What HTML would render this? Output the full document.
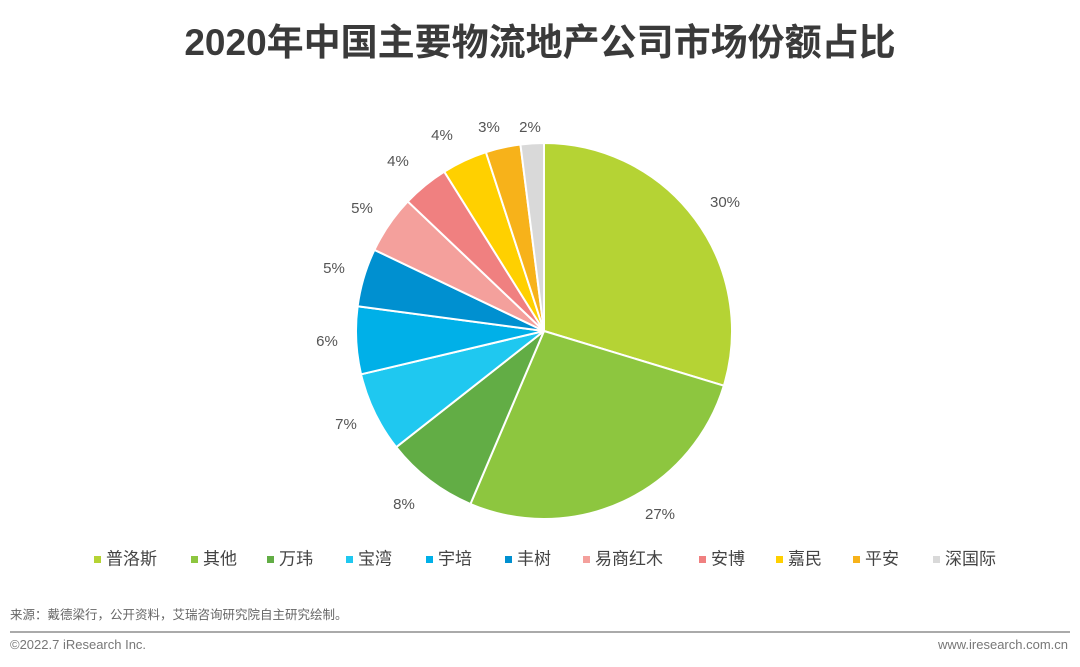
<!DOCTYPE html>
<html><head><meta charset="utf-8"><style>
body{margin:0;width:1080px;height:667px;background:#fff;overflow:hidden;position:relative;font-family:"Liberation Sans","Noto Sans CJK SC",sans-serif;}
.t{position:absolute;white-space:nowrap;}
</style></head><body>
<div class="t" style="left:0;width:1080px;text-align:center;top:12px;font-size:37px;font-weight:bold;color:#3a3a3a;">2020年中国主要物流地产公司市场份额占比</div>
<svg id="s" width="1080" height="667" style="position:absolute;left:0;top:0"></svg>
<div class="t" style="left:10px;top:604px;font-size:12.5px;color:#666;">来源：戴德梁行，公开资料，艾瑞咨询研究院自主研究绘制。</div>
<div style="position:absolute;left:10px;right:10px;top:631px;height:2px;background:#aaa"></div>
<div class="t" style="left:10px;top:637px;font-size:13px;color:#777;">©2022.7 iResearch Inc.</div>
<div class="t" style="right:12px;top:637px;font-size:13px;color:#777;">www.iresearch.com.cn</div>
<script>
var cum=[0,29.7,56.4,64.4,71.3,77.1,82.1,87.1,91.1,95,98,100];
var cols=["#b5d334","#8dc63f","#62ad45","#1fc8f0","#00b0e8","#0090d0","#f4a09c","#f08080","#ffd000","#f7b21a","#d9d9d9"];
var names=["普洛斯","其他","万玮","宝湾","宇培","丰树","易商红木","安博","嘉民","平安","深国际"];
var lab=[["30%",725,203],["27%",660,515],["8%",404,505],["7%",346,425],["6%",327,342],["5%",334,269],["5%",362,209],["4%",398,162],["4%",442,136],["3%",489,128],["2%",530,128]];
var lx=[94,191,267,346,426,505,583,699,776,853,933];
var cx=544,cy=331,r=188,h="";
function pt(p){var a=p/100*2*Math.PI;return [cx+r*Math.sin(a),cy-r*Math.cos(a)];}
for(var i=0;i<11;i++){var a=pt(cum[i]),b=pt(cum[i+1]),lg=(cum[i+1]-cum[i])>50?1:0;
h+='<path d="M'+cx+','+cy+'L'+a[0]+','+a[1]+'A'+r+','+r+' 0 '+lg+' 1 '+b[0]+','+b[1]+'Z" fill="'+cols[i]+'" stroke="#fff" stroke-width="2"/>';
h+='<text x="'+lab[i][1]+'" y="'+lab[i][2]+'" font-size="15" fill="#555" text-anchor="middle" dominant-baseline="middle">'+lab[i][0]+'</text>';
h+='<rect x="'+lx[i]+'" y="556" width="7" height="7" fill="'+cols[i]+'"/><text x="'+(lx[i]+12)+'" y="560" font-size="17" fill="#444" dominant-baseline="middle">'+names[i]+'</text>';}
document.getElementById("s").innerHTML=h;
</script>
</body></html>
